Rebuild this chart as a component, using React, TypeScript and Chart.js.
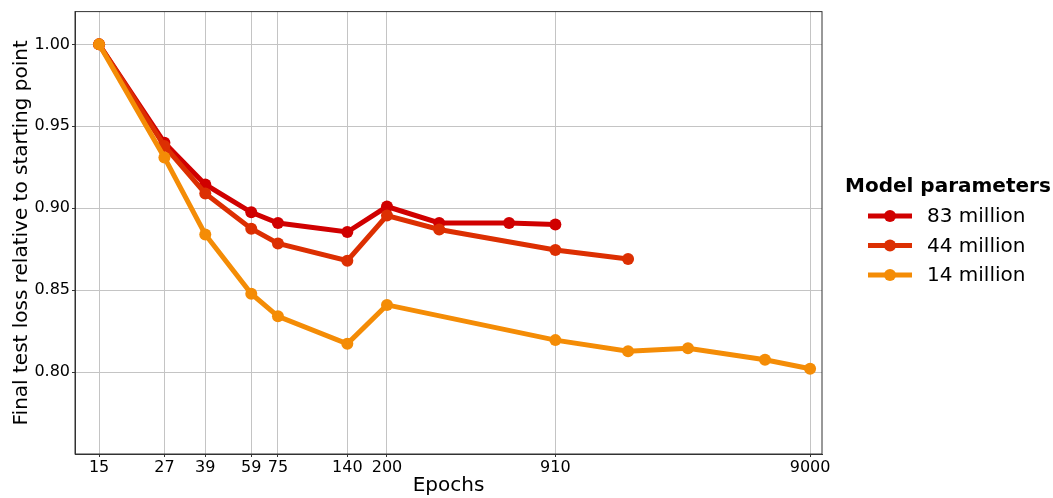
import React, { useEffect, useRef } from "react";
import { Chart, registerables } from "chart.js";

Chart.register(...registerables);

const xTicks = [15, 27, 39, 59, 75, 140, 200, 910, 9000];
const yTicks = [0.8, 0.85, 0.9, 0.95, 1.0];

const epochs83 = [15, 27, 39, 59, 75, 140, 200, 320, 600, 910];
const loss83 = [1.0, 0.94, 0.9145, 0.8975, 0.891, 0.8855, 0.901, 0.891, 0.891, 0.890];

const epochs44 = [15, 27, 39, 59, 75, 140, 200, 320, 910, 1750];
const loss44 = [1.0, 0.938, 0.909, 0.8875, 0.8785, 0.868, 0.8955, 0.887, 0.8745, 0.869];

const epochs14 = [15, 27, 39, 59, 75, 140, 200, 910, 1750, 3000, 6000, 9000];
const loss14 = [1.0, 0.931, 0.884, 0.8478, 0.834, 0.8173, 0.841, 0.8195, 0.8127, 0.8145, 0.8075, 0.802];

const seriesNames = ["83 million", "44 million", "14 million"];
const seriesColors = ["#d00000", "#dc2f02", "#f48c06"];

const FONT = "'DejaVu Sans', sans-serif";

const framePlugin = {
  id: "frame",
  afterDatasetsDraw(chart: any) {
    const { ctx, chartArea } = chart;
    ctx.save();
    ctx.strokeStyle = "#333";
    ctx.lineWidth = 1;
    ctx.strokeRect(chartArea.left, chartArea.top, chartArea.right - chartArea.left, chartArea.bottom - chartArea.top);
    ctx.restore();
  },
};

const legendPlugin = {
  id: "customLegend",
  afterDraw(chart: any) {
    const ctx = chart.ctx;
    ctx.save();
    ctx.fillStyle = "#000";
    ctx.font = `bold 20px ${FONT}`;
    ctx.textBaseline = "middle";
    ctx.textAlign = "left";
    ctx.fillText("Model parameters", 845, 187);
    ctx.font = `20px ${FONT}`;
    seriesNames.forEach((name, i) => {
      const y = 216 + i * 29.5;
      ctx.strokeStyle = seriesColors[i];
      ctx.lineWidth = 5;
      ctx.lineCap = "butt";
      ctx.beginPath();
      ctx.moveTo(868, y);
      ctx.lineTo(912, y);
      ctx.stroke();
      ctx.fillStyle = seriesColors[i];
      ctx.beginPath();
      ctx.arc(890, y, 6, 0, Math.PI * 2);
      ctx.fill();
      ctx.fillStyle = "#000";
      ctx.fillText(name, 927, y + 1);
    });
    ctx.restore();
  },
};

export default function App() {
  const ref = useRef<HTMLCanvasElement>(null);
  useEffect(() => {
    if (!ref.current) return;
    const mk = (xs: number[], ys: number[], i: number) => ({
      label: seriesNames[i],
      data: xs.map((x, k) => ({ x, y: ys[k] })),
      borderColor: seriesColors[i],
      backgroundColor: seriesColors[i],
      borderWidth: 5,
      pointRadius: 6,
      pointBorderWidth: 0,
      pointHoverRadius: 6,
      tension: 0,
    });
    const chart = new Chart(ref.current, {
      type: "line",
      data: {
        datasets: [mk(epochs14, loss14, 2), mk(epochs44, loss44, 1), mk(epochs83, loss83, 0)],
      },
      options: {
        animation: false,
        responsive: false,
        layout: { padding: { top: 10, right: 231, left: 0, bottom: 0 } },
        plugins: { legend: { display: false }, tooltip: { enabled: false } },
        scales: {
          x: {
            type: "logarithmic",
            min: 12.08,
            max: 10018,
            afterBuildTicks: (s: any) => {
              s.ticks = xTicks.map((v) => ({ value: v }));
            },
            afterFit: (s: any) => {
              s.height = 44;
            },
            ticks: {
              autoSkip: false,
              maxRotation: 0,
              color: "#000",
              font: { family: FONT, size: 16 },
              padding: 1,
              callback: (v: any) => String(v),
            },
            grid: { color: "#c4c4c4", lineWidth: 1, tickLength: 3, tickColor: "#333", drawTicks: true },
            border: { color: "#333", width: 1 },
            title: {
              display: true,
              text: "Epochs",
              color: "#000",
              font: { family: FONT, size: 20 },
              padding: { top: 0, bottom: 0 },
            },
          },
          y: {
            min: 0.75,
            max: 1.02,
            afterBuildTicks: (s: any) => {
              s.ticks = yTicks.map((v) => ({ value: v }));
            },
            afterFit: (s: any) => {
              s.width = 75;
            },
            ticks: {
              color: "#000",
              font: { family: FONT, size: 16 },
              padding: 2,
              callback: (v: any) => Number(v).toFixed(2),
            },
            grid: { color: "#c4c4c4", lineWidth: 1, tickLength: 3, tickColor: "#333" },
            border: { color: "#333", width: 1 },
            title: {
              display: true,
              text: "Final test loss relative to starting point",
              color: "#000",
              font: { family: FONT, size: 20 },
              padding: { top: 10, bottom: 0 },
            },
          },
        },
      },
      plugins: [framePlugin, legendPlugin],
    } as any);
    return () => chart.destroy();
  }, []);
  return (
    <div style={{ position: "fixed", left: 0, top: 0, width: 1053, height: 498, background: "#fff" }}>
      <canvas ref={ref} width={1053} height={498} style={{ width: 1053, height: 498 }} />
    </div>
  );
}
